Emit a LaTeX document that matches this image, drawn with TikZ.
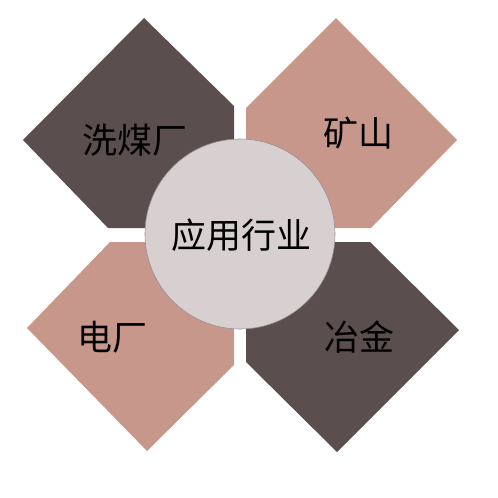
\documentclass[tikz,border=0pt]{standalone}
\usepackage{fontspec}
\newfontfamily\cjk{Noto Sans CJK SC}
\definecolor{darkColor}{RGB}{91,78,79}
\definecolor{pinkColor}{RGB}{200,151,139}
\definecolor{hubColor}{RGB}{216,207,208}
\tikzset{label/.style={font=\cjk\fontsize{35}{35}\selectfont, inner sep=0pt}}

\begin{document}
\begin{tikzpicture}[x=1pt, y=-1pt]
  \useasboundingbox (0,0) rectangle (498,498);
  % Petals
  \fill[darkColor] (144,18) -- (234,106) -- (234,228) -- (108,228) -- (23,140) -- cycle;
  \fill[pinkColor] (336,18) -- (457,140) -- (371,228) -- (246,228) -- (246,108) -- cycle;
  \fill[pinkColor] (27,328) -- (110,242) -- (234,242) -- (234,365) -- (147,451) -- cycle;
  \fill[darkColor] (459,330) -- (337,452) -- (246,362) -- (246,242) -- (370,242) -- cycle;
  % Hub
  \draw[fill=hubColor, draw=hubColor!70!black, line width=0.6pt] (240,234) circle (95);
  % Labels
  \node[label] (hub) at (241,235) {应用行业};
  \node[label] (coal) at (135,140) {洗煤厂};
  \node[label] (mine) at (358,133) {矿山};
  \node[label] (power) at (112,337) {电厂};
  \node[label] (metal) at (359,337) {冶金};
\end{tikzpicture}
\end{document}
